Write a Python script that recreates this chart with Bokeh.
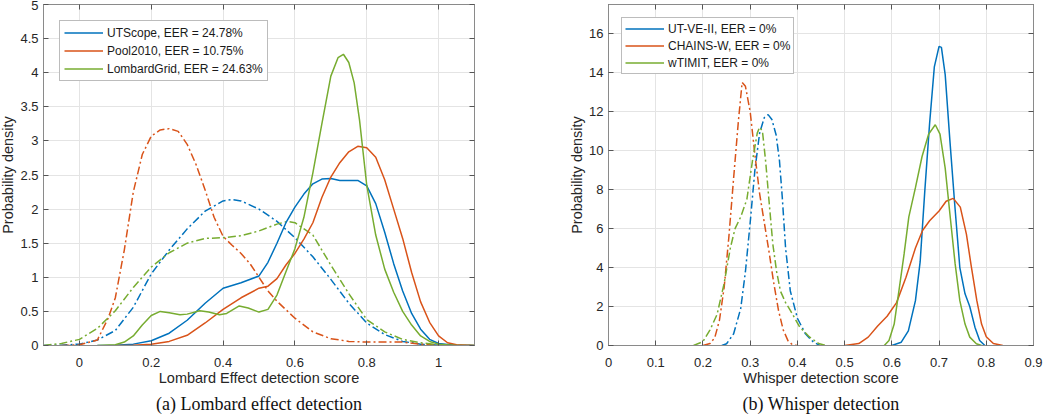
from bokeh.plotting import figure
from bokeh.layouts import row
from bokeh.models import (LinearAxis, FixedTicker, Legend, LegendItem, Title,
                          Range1d, NumeralTickFormatter, CustomJSTickFormatter)
from bokeh.embed import file_html
from bokeh.resources import INLINE

BLUE, ORANGE, GREEN = "#0072BD", "#D95319", "#77AC30"

# ---------------- (a) Lombard effect detection ----------------
a_labels = ["UTScope, EER = 24.78%", "Pool2010, EER = 10.75%", "LombardGrid, EER = 24.63%"]
a_xticks = [0, 0.2, 0.4, 0.6, 0.8, 1.0]
a_yticks = [0, 0.5, 1, 1.5, 2, 2.5, 3, 3.5, 4, 4.5, 5]

# solid: Lombard speech scores
ut_lomb_x = [0.05, 0.1, 0.15, 0.2, 0.25, 0.3, 0.35, 0.4, 0.45, 0.5, 0.525, 0.55, 0.575, 0.6, 0.625,
             0.65, 0.675, 0.7, 0.725, 0.75, 0.775, 0.8, 0.825, 0.85, 0.875, 0.9, 0.925, 0.95, 0.975,
             1.0, 1.05, 1.1]
ut_lomb_y = [0, 0.005, 0.02, 0.07, 0.18, 0.37, 0.62, 0.84, 0.92, 1.02, 1.22, 1.5, 1.8, 2.03, 2.22,
             2.37, 2.44, 2.45, 2.42, 2.42, 2.42, 2.34, 2.08, 1.66, 1.2, 0.8, 0.47, 0.24, 0.09,
             0.03, 0.0, 0.0]
pool_lomb_x = [0.1, 0.15, 0.2, 0.25, 0.3, 0.35, 0.4, 0.45, 0.5, 0.525, 0.55, 0.575, 0.6, 0.625, 0.65,
               0.675, 0.7, 0.725, 0.75, 0.775, 0.8, 0.825, 0.85, 0.875, 0.9, 0.925, 0.95, 0.975, 1.0,
               1.025, 1.05, 1.1]
pool_lomb_y = [0, 0.005, 0.02, 0.06, 0.15, 0.33, 0.53, 0.7, 0.84, 0.87, 0.98, 1.18, 1.35, 1.56, 1.8,
               2.17, 2.47, 2.68, 2.84, 2.92, 2.9, 2.76, 2.43, 2.0, 1.57, 1.07, 0.64, 0.34, 0.14,
               0.04, 0.01, 0]
grid_lomb_x = [0.05, 0.1, 0.125, 0.15, 0.175, 0.2, 0.225, 0.25, 0.28, 0.3, 0.335, 0.36, 0.39, 0.41,
               0.445, 0.47, 0.5, 0.525, 0.55, 0.575, 0.6, 0.625, 0.65, 0.675, 0.7, 0.72, 0.735, 0.75,
               0.765, 0.78, 0.8, 0.825, 0.85, 0.875, 0.9, 0.925, 0.95, 0.975, 1.0, 1.05, 1.1]
grid_lomb_y = [0, 0.01, 0.05, 0.14, 0.3, 0.44, 0.5, 0.48, 0.45, 0.46, 0.51, 0.49, 0.45, 0.47,
               0.58, 0.55, 0.49, 0.53, 0.74, 1.08, 1.42, 1.88, 2.53, 3.25, 3.95, 4.22, 4.27, 4.15,
               3.85, 3.3, 2.35, 1.62, 1.12, 0.78, 0.5, 0.3, 0.14, 0.06, 0.02, 0, 0]

# dash-dot: neutral speech scores
ut_neut_x = [-0.1, -0.05, 0, 0.05, 0.1, 0.15, 0.2, 0.25, 0.3, 0.35, 0.4, 0.425, 0.45, 0.5, 0.55, 0.6,
             0.65, 0.7, 0.75, 0.8, 0.85, 0.9, 0.95, 1.0, 1.05, 1.1]
ut_neut_y = [0, 0.005, 0.02, 0.08, 0.22, 0.56, 1.05, 1.4, 1.71, 1.97, 2.12, 2.14, 2.12, 2.0, 1.82, 1.58,
             1.3, 0.97, 0.62, 0.33, 0.16, 0.06, 0.02, 0.005, 0, 0]
pool_neut_x = [-0.05, 0, 0.05, 0.08, 0.1, 0.125, 0.15, 0.175, 0.2, 0.225, 0.25, 0.275, 0.3, 0.325,
               0.35, 0.375, 0.4, 0.425, 0.45, 0.475, 0.5, 0.525, 0.55, 0.6, 0.65, 0.7, 0.75, 0.8,
               0.85, 0.9, 0.95, 1.0, 1.05]
pool_neut_y = [0, 0.01, 0.08, 0.4, 0.7, 1.4, 2.25, 2.8, 3.07, 3.16, 3.18, 3.14, 2.95, 2.65,
               2.28, 1.88, 1.6, 1.47, 1.35, 1.2, 1.0, 0.8, 0.65, 0.4, 0.2, 0.1, 0.06, 0.05,
               0.05, 0.05, 0.02, 0.005, 0]
grid_neut_x = [-0.1, -0.05, 0, 0.05, 0.1, 0.15, 0.2, 0.25, 0.3, 0.35, 0.4, 0.45, 0.5, 0.55, 0.58, 0.6,
               0.65, 0.7, 0.75, 0.8, 0.85, 0.9, 0.95, 1.0, 1.05, 1.1]
grid_neut_y = [0, 0.03, 0.09, 0.25, 0.51, 0.85, 1.15, 1.36, 1.5, 1.57, 1.58, 1.61, 1.68, 1.78, 1.82, 1.8,
               1.62, 1.18, 0.76, 0.38, 0.2, 0.09, 0.04, 0.01, 0, 0]

# ---------------- (b) Whisper detection ----------------
b_labels = ["UT-VE-II, EER = 0%", "CHAINS-W, EER = 0%", "wTIMIT, EER = 0%"]
b_xticks = [0, 0.1, 0.2, 0.3, 0.4, 0.5, 0.6, 0.7, 0.8, 0.9]
b_yticks = [0, 2, 4, 6, 8, 10, 12, 14, 16]

# solid: whispered speech scores
ut_wh_x = [0.6, 0.62, 0.635, 0.65, 0.66, 0.67, 0.68, 0.69, 0.7, 0.705, 0.713, 0.723, 0.733, 0.744,
           0.755, 0.765, 0.776, 0.786, 0.797]
ut_wh_y = [0, 0.17, 0.75, 2.3, 4.3, 8.0, 11.4, 14.3, 15.35, 15.3, 13.9, 10.5, 7.3, 4.0,
           2.65, 2.0, 0.94, 0.26, 0]
ch_wh_x = [0.5, 0.53, 0.55, 0.57, 0.59, 0.61, 0.63, 0.65, 0.665, 0.68, 0.7, 0.715, 0.73, 0.745,
           0.758, 0.768, 0.78, 0.79, 0.8, 0.815, 0.835]
ch_wh_y = [0, 0.1, 0.43, 1.0, 1.5, 2.2, 3.5, 5.0, 5.9, 6.4, 6.9, 7.4, 7.55, 7.1,
           5.7, 4.1, 2.3, 1.1, 0.45, 0.1, 0]
wt_wh_x = [0.584, 0.594, 0.605, 0.615, 0.626, 0.636, 0.65, 0.664, 0.678, 0.692, 0.702, 0.713, 0.723,
           0.734, 0.744, 0.755, 0.765, 0.779, 0.79]
wt_wh_y = [0, 0.26, 1.1, 2.8, 4.7, 6.6, 8.1, 9.7, 10.85, 11.33, 10.85, 9.1, 6.75,
           4.2, 2.3, 1.1, 0.43, 0.09, 0]

# dash-dot: neutral speech scores
ut_nt_x = [0.24, 0.25, 0.265, 0.28, 0.29, 0.3, 0.31, 0.32, 0.33, 0.338, 0.346, 0.355, 0.362, 0.368,
           0.375, 0.385, 0.4, 0.417, 0.434, 0.448]
ut_nt_y = [0, 0.09, 0.6, 1.9, 3.8, 6.3, 9.0, 10.9, 11.7, 11.85, 11.6, 10.8, 9.5, 7.6,
           5.0, 2.8, 1.4, 0.6, 0.17, 0]
ch_nt_x = [0.2, 0.215, 0.225, 0.235, 0.245, 0.255, 0.265, 0.275, 0.283, 0.29, 0.3, 0.31, 0.32, 0.33,
           0.34, 0.35, 0.36, 0.37, 0.38, 0.39, 0.4]
ch_nt_y = [0, 0.1, 0.4, 1.3, 3.0, 5.6, 8.6, 11.5, 13.5, 13.3, 12.0, 9.8, 7.8, 6.3,
           4.8, 3.2, 1.8, 0.8, 0.25, 0.03, 0]
wt_nt_x = [0.18, 0.2, 0.215, 0.23, 0.245, 0.258, 0.268, 0.28, 0.293, 0.305, 0.315, 0.32, 0.326, 0.333,
           0.34, 0.348, 0.356, 0.364, 0.375, 0.385, 0.405, 0.425, 0.445, 0.46]
wt_nt_y = [0, 0.2, 0.8, 1.6, 3.2, 5.0, 6.0, 6.6, 7.5, 9.5, 10.9, 11.2, 11.0, 9.4,
           7.4, 5.2, 3.8, 2.8, 2.2, 1.8, 0.95, 0.45, 0.1, 0]

TXT = "#262626"
LINE = "#8a8a8a"
FONT = "Liberation Sans"
DASHDOT = "8 3 2 3"


def make_plot(width, height, xr, yr, xticks, yticks, xlabel, caption, bl, br, bt, bb):
    p = figure(width=width, height=height, x_range=Range1d(*xr), y_range=Range1d(*yr),
               output_backend="svg", toolbar_location=None,
               min_border_left=bl, min_border_right=br, min_border_top=bt, min_border_bottom=bb)
    p.title.visible = False
    p.background_fill_color = "white"
    p.border_fill_color = "white"
    p.outline_line_color = LINE
    p.outline_line_width = 1
    fmt = NumeralTickFormatter(format="0.[0]")
    for ax in (p.xaxis[0], p.yaxis[0]):
        ax.formatter = fmt
        ax.axis_line_color = LINE
        ax.major_tick_line_color = "#555555"
        ax.major_tick_in = 5
        ax.major_tick_out = 0
        ax.minor_tick_line_color = None
        ax.major_label_text_font = FONT
        ax.major_label_text_font_size = "13px"
        ax.major_label_text_color = TXT
        ax.axis_label_text_font = FONT
        ax.axis_label_text_font_size = "14.5px"
        ax.axis_label_text_font_style = "normal"
        ax.axis_label_text_color = TXT
    p.xaxis[0].ticker = FixedTicker(ticks=xticks)
    p.yaxis[0].ticker = FixedTicker(ticks=yticks)
    p.xaxis[0].axis_label = xlabel
    p.yaxis[0].axis_label = "Probability density"
    p.xaxis[0].major_label_standoff = 12
    p.xaxis[0].axis_label_standoff = 0
    p.yaxis[0].major_label_standoff = 5
    p.yaxis[0].axis_label_standoff = 1
    blank = CustomJSTickFormatter(code="return ''")
    for loc, ticks in (("above", xticks), ("right", yticks)):
        ax = LinearAxis(ticker=FixedTicker(ticks=ticks), formatter=blank,
                        major_label_text_font_size="1px",
                        major_label_standoff=0, major_tick_in=5, major_tick_out=0,
                        minor_tick_line_color=None, axis_line_color=LINE,
                        major_tick_line_color="#555555")
        p.add_layout(ax, loc)
    p.xgrid.ticker = FixedTicker(ticks=xticks)
    p.ygrid.ticker = FixedTicker(ticks=yticks)
    for g in (p.xgrid[0], p.ygrid[0]):
        g.grid_line_color = "#e4e4e4"
        g.grid_line_width = 1
    cap = Title(text=caption, align="center", text_font="Liberation Serif",
                text_font_size="18px", text_font_style="normal", text_color="#111111",
                standoff=7)
    p.add_layout(cap, "below")
    return p


def add_legend(p, items, margin, spacing, padding):
    leg = Legend(items=items, location="top_left", margin=margin, spacing=spacing,
                 padding=padding, glyph_width=39, glyph_height=15, label_height=15,
                 label_standoff=4, label_text_font=FONT, label_text_font_size="12px",
                 label_text_color="#1a1a1a", border_line_color="#7a7a7a", border_line_width=1,
                 background_fill_color="white", background_fill_alpha=1.0)
    p.add_layout(leg)


# ---- figure (a)
pa = make_plot(524, 418, (-0.1, 1.1), (0, 5), a_xticks, a_yticks,
               "Lombard Effect detection score", "(a) Lombard effect detection", 47, 46, 4, 73)
ra = []
for xs, ys, c in ((ut_neut_x, ut_neut_y, BLUE), (pool_neut_x, pool_neut_y, ORANGE),
                  (grid_neut_x, grid_neut_y, GREEN)):
    pa.line(xs, ys, line_color=c, line_width=1.5, line_dash=DASHDOT)
for xs, ys, c in ((ut_lomb_x, ut_lomb_y, BLUE), (pool_lomb_x, pool_lomb_y, ORANGE),
                  (grid_lomb_x, grid_lomb_y, GREEN)):
    ra.append(pa.line(xs, ys, line_color=c, line_width=1.5))
add_legend(pa, [LegendItem(label=l, renderers=[r]) for l, r in zip(a_labels, ra)], 16, 3, 4)

# ---- figure (b)
pb = make_plot(526, 418, (0, 0.9), (0, 17.5), b_xticks, b_yticks,
               "Whisper detection score", "(b) Whisper detection", 88, 13, 4, 73)
rb = []
for xs, ys, c in ((ut_nt_x, ut_nt_y, BLUE), (ch_nt_x, ch_nt_y, ORANGE), (wt_nt_x, wt_nt_y, GREEN)):
    pb.line(xs, ys, line_color=c, line_width=1.5, line_dash=DASHDOT)
for xs, ys, c in ((ut_wh_x, ut_wh_y, BLUE), (ch_wh_x, ch_wh_y, ORANGE), (wt_wh_x, wt_wh_y, GREEN)):
    rb.append(pb.line(xs, ys, line_color=c, line_width=1.5))
add_legend(pb, [LegendItem(label=l, renderers=[r]) for l, r in zip(b_labels, rb)], 13, 2, 3)

layout = row(pa, pb, styles={"margin-left": "-4px"})

open("out.html", "w").write(file_html(layout, INLINE))
